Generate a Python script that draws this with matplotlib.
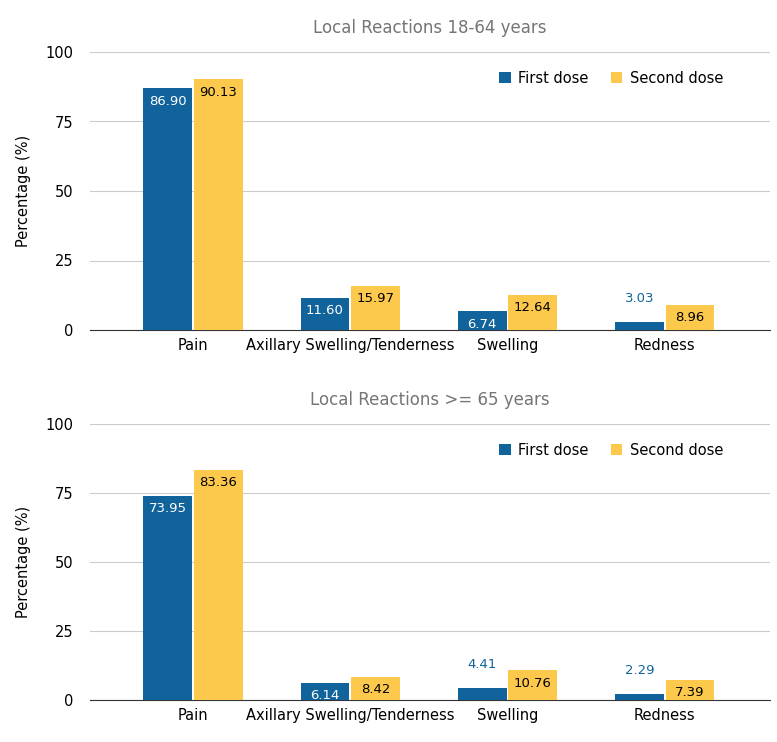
import matplotlib.pyplot as plt
import numpy as np

categories = ["Pain", "Axillary Swelling/Tenderness", "Swelling", "Redness"]
first_1864 = [86.90, 11.60, 6.74, 3.03]
second_1864 = [90.13, 15.97, 12.64, 8.96]
first_65 = [73.95, 6.14, 4.41, 2.29]
second_65 = [83.36, 8.42, 10.76, 7.39]
titles = ["Local Reactions 18-64 years", "Local Reactions >= 65 years"]
yticks = [0, 25, 50, 75, 100]

BLUE = "#11639c"
YEL = "#fdc94d"

fig = plt.figure(figsize=(7.77, 7.42), dpi=100)
axes = [fig.add_axes([90/777, 1-330/742, 680/777, 278/742]),
        fig.add_axes([90/777, 1-700/742, 680/777, 276/742])]
data = [(first_1864, second_1864), (first_65, second_65)]
w = 0.31
x = np.arange(len(categories))
for ax, (f, s), t in zip(axes, data, titles):
    b1 = ax.bar(x - w/2 - 0.006, f, w, color=BLUE, label="First dose", zorder=3)
    b2 = ax.bar(x + w/2 + 0.006, s, w, color=YEL, label="Second dose", zorder=3)
    for bars, vals, inc, above in ((b1, f, "white", BLUE), (b2, s, "black", YEL)):
        for b, v in zip(bars, vals):
            cx = b.get_x() + b.get_width()/2
            if v < 5:
                ax.text(cx, v + 6, f"{v:.2f}", ha="center", va="bottom", color=BLUE, fontsize=9.5)
            else:
                ax.text(cx, v - 2.3, f"{v:.2f}", ha="center", va="top", color=inc, fontsize=9.5)
    ax.set_xlim(-0.656, 3.67)
    ax.set_ylim(0, 100)
    ax.set_yticks(yticks)
    ax.set_xticks(x)
    ax.set_xticklabels(categories, fontsize=10.5)
    ax.tick_params(axis="y", labelsize=10.5, length=0, pad=12)
    ax.tick_params(axis="x", length=0, pad=6)
    ax.grid(axis="y", color="#cccccc", lw=0.8, zorder=0)
    for sp in ["top", "right", "left"]:
        ax.spines[sp].set_visible(False)
    ax.spines["bottom"].set_color("#333333")
    ax.set_ylabel("Percentage (%)", fontsize=10.5, labelpad=10)
    ax.set_title(t, color="#757575", fontsize=12, pad=14)
    ax.legend(loc="upper right", bbox_to_anchor=(0.95, 0.98), ncol=2, frameon=False,
              fontsize=10.5, handlelength=0.8, handleheight=0.8, columnspacing=1.5, handletextpad=0.5)

fig.savefig("out.png", dpi=100)
